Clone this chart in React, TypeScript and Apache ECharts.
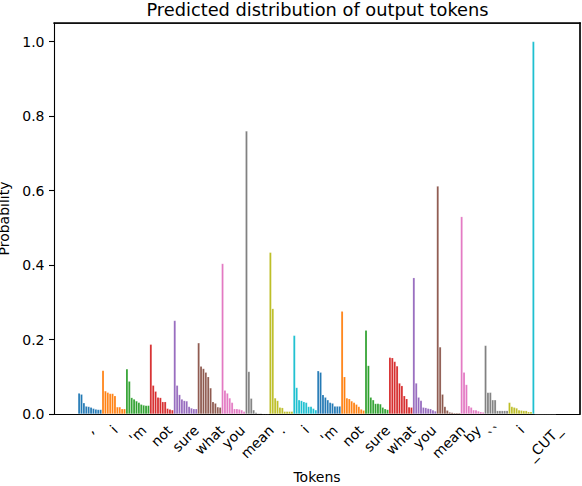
import React, { useEffect, useRef } from "react";
import * as echarts from "echarts";

// tokens on the x axis, in order
const tokens = [",", "i", "'m", "not", "sure", "what", "you", "mean", ".", "i",
  "'m", "not", "sure", "what", "you", "mean", "by", "``", "i", "_CUT_"];

// top-10 predicted probabilities for each token position
const probs = [
  [0.056, 0.053, 0.030, 0.021, 0.020, 0.018, 0.015, 0.013, 0.012, 0.012], // ,
  [0.117, 0.062, 0.058, 0.055, 0.055, 0.049, 0.019, 0.019, 0.014, 0.014], // i
  [0.121, 0.088, 0.044, 0.040, 0.035, 0.031, 0.026, 0.024, 0.023, 0.023], // 'm
  [0.187, 0.077, 0.061, 0.045, 0.044, 0.033, 0.033, 0.015, 0.013, 0.011], // not
  [0.251, 0.077, 0.052, 0.040, 0.036, 0.035, 0.020, 0.016, 0.014, 0.014], // sure
  [0.191, 0.128, 0.122, 0.112, 0.100, 0.070, 0.033, 0.029, 0.019, 0.018], // what
  [0.404, 0.064, 0.056, 0.043, 0.031, 0.014, 0.014, 0.013, 0.011, 0.007], // you
  [0.760, 0.114, 0.042, 0.011, 0.004, 0.002, 0.002, 0.001, 0.001, 0.001], // mean
  [0.434, 0.283, 0.043, 0.036, 0.018, 0.017, 0.007, 0.007, 0.007, 0.007], // .
  [0.211, 0.071, 0.038, 0.036, 0.033, 0.031, 0.020, 0.020, 0.015, 0.011], // i
  [0.116, 0.112, 0.052, 0.045, 0.038, 0.031, 0.029, 0.021, 0.021, 0.021], // 'm
  [0.276, 0.100, 0.043, 0.041, 0.035, 0.031, 0.026, 0.020, 0.013, 0.010], // not
  [0.225, 0.130, 0.045, 0.038, 0.028, 0.028, 0.027, 0.018, 0.014, 0.012], // sure
  [0.152, 0.151, 0.141, 0.129, 0.083, 0.076, 0.049, 0.041, 0.019, 0.018], // what
  [0.366, 0.083, 0.045, 0.036, 0.018, 0.017, 0.015, 0.014, 0.011, 0.008], // you
  [0.612, 0.180, 0.053, 0.020, 0.010, 0.005, 0.004, 0.003, 0.003, 0.003], // mean
  [0.530, 0.112, 0.079, 0.022, 0.018, 0.011, 0.011, 0.008, 0.006, 0.005], // by
  [0.184, 0.058, 0.058, 0.038, 0.038, 0.009, 0.009, 0.009, 0.009, 0.009], // ``
  [0.031, 0.020, 0.018, 0.016, 0.011, 0.010, 0.009, 0.009, 0.006, 0.006], // i
  [1.000, 0, 0, 0, 0, 0, 0, 0, 0, 0], // _CUT_
];

const yTicks = [0, 0.2, 0.4, 0.6, 0.8, 1.0];

const palette = ["#1f77b4", "#ff7f0e", "#2ca02c", "#d62728", "#9467bd",
  "#8c564b", "#e377c2", "#7f7f7f", "#bcbd22", "#17becf"];

const FONT = "DejaVu Sans";
const TITLE = "Predicted distribution of output tokens";

// plot area inside the 582x486 canvas
const GRID = { left: 54, right: 2, top: 23, bottom: 72 };
const WIDTH = 582;
const HEIGHT = 486;

function textWidth(s: string, size: number) {
  const ctx = document.createElement("canvas").getContext("2d")!;
  ctx.font = `${size}px "${FONT}"`;
  return ctx.measureText(s).width;
}

const App: React.FC = () => {
  const chartRef = useRef<HTMLDivElement>(null);

  useEffect(() => {
    const chart = echarts.init(chartRef.current!, null, { renderer: "svg" });

    // one empty slot on each side, like matplotlib's margins
    const cats = ["", ...tokens, ""];
    const last = cats.length - 1;

    // matplotlib centres rotated labels under the tick: pad each one into place
    const rich: Record<string, any> = {};
    cats.forEach((t, i) => {
      const pad = t ? 12.4 + 0.5 * textWidth(t, 14) : 0;
      rich["p" + i] = {
        padding: [pad, pad, 0, 0],
        fontFamily: FONT,
        fontSize: 14,
        color: "#000",
      };
    });

    const series: any[] = probs[0].map((_, rank) => ({
      type: "bar",
      barGap: "0%",
      barCategoryGap: "0%",
      data: cats.map((_t, ci) =>
        ci === 0 || ci === last
          ? "-"
          : {
              value: probs[ci - 1][rank],
              itemStyle: { color: palette[(ci - 1) % palette.length] },
            }
      ),
      itemStyle: { borderColor: "rgba(255,255,255,0.35)", borderWidth: 0.5 },
    }));

    // top and right spines as thin filled strips
    const x0 = GRID.left - 0.5;
    const y0 = GRID.top - 0.5;
    const x1 = WIDTH - GRID.right;
    const y1 = HEIGHT - GRID.bottom;
    const spineW = 1.2;
    const strips = [
      { x: x0, y: y0, width: x1 - x0 + 0.6, height: spineW },
      { x: x1 - 0.6, y: y0, width: spineW, height: y1 - y0 + 0.6 },
    ];

    series.push({
      type: "custom",
      silent: true,
      clip: false,
      z: 10,
      data: [[0, 0]],
      renderItem: () => ({
        type: "group",
        children: strips.map((s) => ({
          type: "rect",
          shape: s,
          style: { fill: "#000" },
        })),
      }),
    });

    const titleW = textWidth(TITLE, 17.8);

    const options = {
      animation: false,
      backgroundColor: "#fff",
      textStyle: { fontFamily: FONT, color: "#000" },
      title: {
        text: TITLE,
        left: 317.5 - titleW / 2,
        top: 0,
        padding: 0,
        textStyle: { fontFamily: FONT, fontSize: 17.8, fontWeight: "normal", color: "#000" },
      },
      grid: { ...GRID, containLabel: false, outerBoundsMode: "none" },
      graphic: strips.map((s) => ({
        type: "rect",
        silent: true,
        z: 100,
        shape: s,
        style: { fill: "#000" },
      })),
      xAxis: {
        type: "category",
        data: cats,
        name: "Tokens",
        nameLocation: "middle",
        nameGap: 53,
        nameTextStyle: { fontFamily: FONT, fontSize: 14, color: "#000" },
        axisLine: { onZero: false, lineStyle: { color: "#000", width: 1.1 } },
        axisTick: {
          alignWithLabel: true,
          length: 5,
          interval: (i: number) => i > 0 && i < last,
          lineStyle: { color: "#000", width: 1.1 },
        },
        axisLabel: {
          interval: 0,
          rotate: 45,
          align: "center",
          verticalAlign: "middle",
          margin: 5,
          fontFamily: FONT,
          fontSize: 14,
          color: "#000",
          formatter: (v: string, i: number) => (v ? `{p${i}|${v}}` : ""),
          rich,
        },
        splitLine: { show: false },
      },
      yAxis: {
        type: "value",
        min: 0,
        max: 1.05,
        name: "Probability",
        nameLocation: "middle",
        nameGap: 34,
        nameTextStyle: { fontFamily: FONT, fontSize: 14, color: "#000" },
        axisLine: { show: true, onZero: false, lineStyle: { color: "#000", width: 1.1 } },
        axisTick: {
          show: true,
          length: 5,
          customValues: yTicks,
          lineStyle: { color: "#000", width: 1.1 },
        },
        axisLabel: {
          customValues: yTicks,
          formatter: (v: number) => v.toFixed(1),
          margin: 9.5,
          fontFamily: FONT,
          fontSize: 14,
          color: "#000",
        },
        splitLine: { show: false },
      },
      series,
    };

    chart.setOption(options as any);

    return () => {
      chart.dispose();
    };
  }, []);

  return (
    <div
      ref={chartRef}
      style={{ position: "absolute", left: 0, top: 0, width: WIDTH, height: HEIGHT }}
    ></div>
  );
};

export default App;
